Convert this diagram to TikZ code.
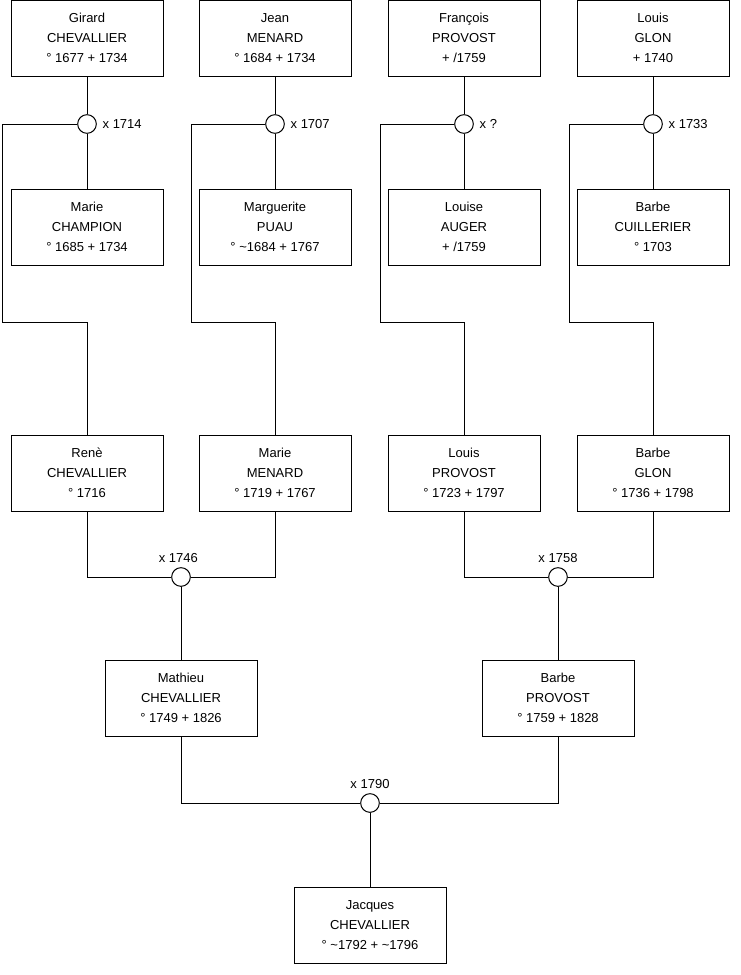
\documentclass[tikz,border=0pt]{standalone}
\usepackage{fontspec}
\setmainfont{Liberation Sans}
\usetikzlibrary{positioning}

\tikzset{
  person/.style={draw, fill=white, minimum width=114pt, minimum height=57pt,
    align=center, inner sep=0pt, font=\fontsize{9.75}{15}\selectfont},
  wed/.style={draw, circle, fill=white, minimum size=14pt, inner sep=0pt},
  wedlabel/.style={font=\fontsize{9.75}{12}\selectfont, inner sep=1pt},
}

\begin{document}
\begin{tikzpicture}[x=0.75pt,y=-0.75pt,line width=0.75pt]
\useasboundingbox (0,0) rectangle (740,975);
% generation 1
\node[person] (girard) at (87,38) {Girard\\CHEVALLIER\\\textdegree\ 1677 + 1734};
\node[person] (jean) at (275,38) {Jean\\MENARD\\\textdegree\ 1684 + 1734};
\node[person] (francois) at (464,38) {François\\PROVOST\\+ /1759};
\node[person] (louisG) at (653,38) {Louis\\GLON\\+ 1740};
\node[person] (marieC) at (87,227) {Marie\\CHAMPION\\\textdegree\ 1685 + 1734};
\node[person] (marguerite) at (275,227) {Marguerite\\PUAU\\\textdegree\ \textasciitilde 1684 + 1767};
\node[person] (louise) at (464,227) {Louise\\AUGER\\+ /1759};
\node[person] (barbeC) at (653,227) {Barbe\\CUILLERIER\\\textdegree\ 1703};
\node[wed] (m1) at (87,124) {};
\node[wed] (m2) at (275,124) {};
\node[wed] (m3) at (464,124) {};
\node[wed] (m4) at (653,124) {};
\node[wedlabel, right=3pt of m1] {x 1714};
\node[wedlabel, right=3pt of m2] {x 1707};
\node[wedlabel, right=3pt of m3] {x ?};
\node[wedlabel, right=3pt of m4] {x 1733};
% generation 2
\node[person] (rene) at (87,473) {Renè\\CHEVALLIER\\\textdegree\ 1716};
\node[person] (marieM) at (275,473) {Marie\\MENARD\\\textdegree\ 1719 + 1767};
\node[person] (louisP) at (464,473) {Louis\\PROVOST\\\textdegree\ 1723 + 1797};
\node[person] (barbeG) at (653,473) {Barbe\\GLON\\\textdegree\ 1736 + 1798};
\node[wed] (m5) at (181,577) {};
\node[wed] (m6) at (558,577) {};
\node[wedlabel, above=2pt of m5, xshift=-2pt] {x 1746};
\node[wedlabel, above=2pt of m6] {x 1758};
% generation 3
\node[person] (mathieu) at (181,698) {Mathieu\\CHEVALLIER\\\textdegree\ 1749 + 1826};
\node[person] (barbeP) at (558,698) {Barbe\\PROVOST\\\textdegree\ 1759 + 1828};
\node[wed] (m7) at (370,803) {};
\node[wedlabel, above=2pt of m7] {x 1790};
\node[person] (jacques) at (370,925) {Jacques\\CHEVALLIER\\\textdegree\ \textasciitilde 1792 + \textasciitilde 1796};

\coordinate (k1) at (2,322);
\coordinate (k2) at (191,322);
\coordinate (k3) at (380,322);
\coordinate (k4) at (569,322);

\draw (girard) -- (m1) -- (marieC);
\draw (jean) -- (m2) -- (marguerite);
\draw (francois) -- (m3) -- (louise);
\draw (louisG) -- (m4) -- (barbeC);
\draw (m1.west) -| (k1) -| (rene.north);
\draw (m2.west) -| (k2) -| (marieM.north);
\draw (m3.west) -| (k3) -| (louisP.north);
\draw (m4.west) -| (k4) -| (barbeG.north);
\draw (rene.south) |- (m5.west);
\draw (marieM.south) |- (m5.east);
\draw (louisP.south) |- (m6.west);
\draw (barbeG.south) |- (m6.east);
\draw (m5.south) -- (mathieu.north);
\draw (m6.south) -- (barbeP.north);
\draw (mathieu.south) |- (m7.west);
\draw (barbeP.south) |- (m7.east);
\draw (m7.south) -- (jacques.north);
\end{tikzpicture}
\end{document}
